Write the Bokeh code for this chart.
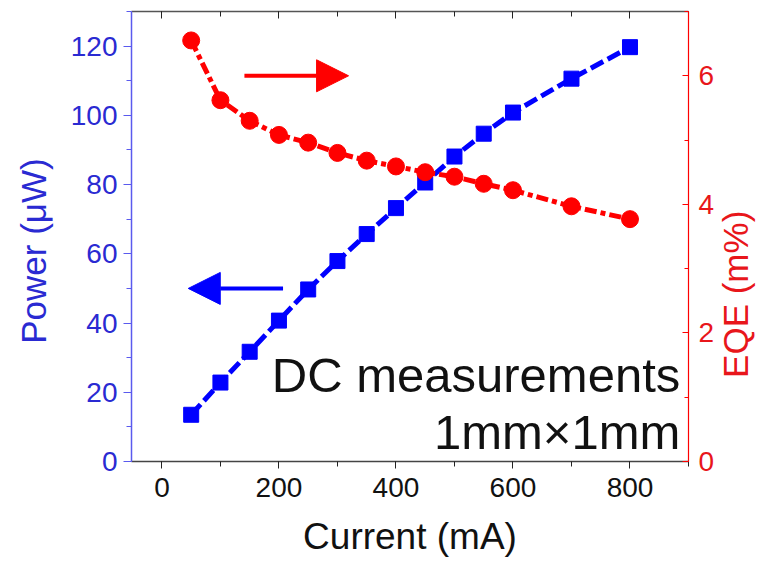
import math
from bokeh.plotting import figure
from bokeh.models import (Range1d, LinearAxis, SingleIntervalTicker, FixedTicker, Arrow, NormalHead, Label,
                          ColumnDataSource, CustomJSTickFormatter)
from bokeh.embed import file_html
from bokeh.resources import INLINE

current = [50, 100, 150, 200, 250, 300, 350, 400, 450, 500, 550, 600, 700, 800]
power = [13.5, 22.8, 31.7, 40.7, 49.7, 57.9, 65.7, 73.2, 80.6, 88.1, 94.7, 100.8, 110.6, 119.7]
eqe = [6.55, 5.62, 5.30, 5.08, 4.96, 4.80, 4.68, 4.59, 4.50, 4.43, 4.32, 4.22, 3.97, 3.77]

FONT = "Liberation Sans"
BLUE = "#0000ff"
BLUE_TXT = "#2a2ad2"
BLUE_AX = "#5a5aee"
RED = "#ff0000"
RED_TXT = "#e8161b"
DARK = "#111111"
NB = "\u00a0"

src = ColumnDataSource(dict(current=current, power=power, eqe=eqe))

p = figure(width=778, height=571, x_range=Range1d(-52, 900), y_range=Range1d(0, 130),
           output_backend="svg", toolbar_location=None,
           min_border_left=131, min_border_right=90, min_border_top=11, min_border_bottom=110,
           x_axis_location=None, y_axis_location=None)
p.outline_line_color = None
p.grid.visible = False
p.background_fill_color = "white"
p.border_fill_color = "white"
p.extra_y_ranges = {"eqe": Range1d(0, 7)}

# left axis
ly = LinearAxis(ticker=SingleIntervalTicker(interval=20, num_minor_ticks=2),
                axis_label="Power (\u03bcW)" + NB * 3)
ly.axis_line_color = BLUE_AX
ly.axis_line_width = 1.5
ly.major_tick_line_color = BLUE_AX
ly.minor_tick_line_color = BLUE_AX
ly.major_tick_out = 8
ly.major_tick_in = 0
ly.minor_tick_out = 5
ly.minor_tick_in = 0
ly.major_label_text_font = FONT
ly.major_label_text_font_size = "28px"
ly.major_label_text_color = BLUE_TXT
ly.major_label_standoff = 6
ly.axis_label_text_font = FONT
ly.axis_label_text_font_size = "35px"
ly.axis_label_text_font_style = "normal"
ly.axis_label_text_color = BLUE_TXT
ly.axis_label_standoff = 15
p.add_layout(ly, "left")

# right axis (ticks + numbers)
ry = LinearAxis(y_range_name="eqe", ticker=SingleIntervalTicker(interval=2, num_minor_ticks=2))
ry.axis_line_color = RED
ry.axis_line_width = 1.2
ry.major_tick_line_color = RED
ry.minor_tick_line_color = RED
ry.major_tick_out = 0
ry.major_tick_in = 6
ry.minor_tick_out = 0
ry.minor_tick_in = 4
ry.major_label_text_font = FONT
ry.major_label_text_font_size = "28px"
ry.major_label_text_color = RED_TXT
ry.major_label_standoff = 10
p.add_layout(ry, "right")

# right axis title, drawn as a rotated label reading bottom-to-top
EQE_TITLE_AT = 1.3
rt = LinearAxis(y_range_name="eqe", ticker=FixedTicker(ticks=[EQE_TITLE_AT]),
                major_label_overrides={EQE_TITLE_AT: "EQE (m%)"})
rt.axis_line_color = None
rt.major_tick_line_color = None
rt.minor_tick_line_color = None
rt.major_tick_out = 0
rt.major_tick_in = 0
rt.minor_tick_out = 0
rt.minor_tick_in = 0
rt.major_label_orientation = math.pi / 2
rt.major_label_text_font = FONT
rt.major_label_text_font_size = "35px"
rt.major_label_text_color = RED_TXT
rt.major_label_standoff = 18
p.add_layout(rt, "right")

# bottom axis
bx = LinearAxis(ticker=SingleIntervalTicker(interval=200, num_minor_ticks=2), axis_label="Current (mA)")
bx.axis_line_color = "#444444"
bx.axis_line_width = 1.5
bx.major_tick_line_color = "#222222"
bx.minor_tick_line_color = "#222222"
bx.major_tick_out = 7
bx.major_tick_in = 0
bx.minor_tick_out = 5
bx.minor_tick_in = 0
bx.major_label_text_font = FONT
bx.major_label_text_font_size = "28px"
bx.major_label_text_color = DARK
bx.major_label_standoff = 9
bx.axis_label_text_font = FONT
bx.axis_label_text_font_size = "37px"
bx.axis_label_text_font_style = "normal"
bx.axis_label_text_color = DARK
bx.axis_label_standoff = 16
p.add_layout(bx, "below")

# top axis (frame with inward ticks, no labels)
tx = LinearAxis(ticker=SingleIntervalTicker(interval=200, num_minor_ticks=2),
                formatter=CustomJSTickFormatter(code="return ''"))
tx.axis_line_color = "#555555"
tx.axis_line_width = 1.5
tx.major_tick_line_color = "#222222"
tx.minor_tick_line_color = "#222222"
tx.major_tick_out = 0
tx.major_tick_in = 7
tx.minor_tick_out = 0
tx.minor_tick_in = 5
tx.major_label_standoff = 0
p.add_layout(tx, "above")

# series
p.line("current", "power", source=src, line_color=BLUE, line_width=5, line_dash="14 5")
p.scatter("current", "power", source=src, marker="square", size=15, fill_color=BLUE, line_color=BLUE)
p.line("current", "eqe", source=src, y_range_name="eqe", line_color=RED, line_width=5, line_dash="12 4 5 4")
p.scatter("current", "eqe", source=src, y_range_name="eqe", marker="circle", size=17, fill_color=RED, line_color=RED)

# arrows
p.add_layout(Arrow(end=NormalHead(size=32, fill_color=RED, line_color=RED, line_width=1),
                   x_start=141, y_start=6.0, x_end=319, y_end=6.0, y_range_name="eqe",
                   line_color=RED, line_width=4))
p.add_layout(Arrow(end=NormalHead(size=32, fill_color=BLUE, line_color=BLUE, line_width=1),
                   x_start=207, y_start=50, x_end=45, y_end=50,
                   line_color=BLUE, line_width=4))

# annotation text
p.add_layout(Label(x=886, y=25.0, text="DC measurements", text_align="right", text_baseline="alphabetic",
                   text_font=FONT, text_font_size="49px", text_color=DARK))
p.add_layout(Label(x=886, y=8.6, text="1mm\u00d71mm", text_align="right", text_baseline="alphabetic",
                   text_font=FONT, text_font_size="49px", text_color=DARK))

open("out.html", "w").write(file_html(p, INLINE))
